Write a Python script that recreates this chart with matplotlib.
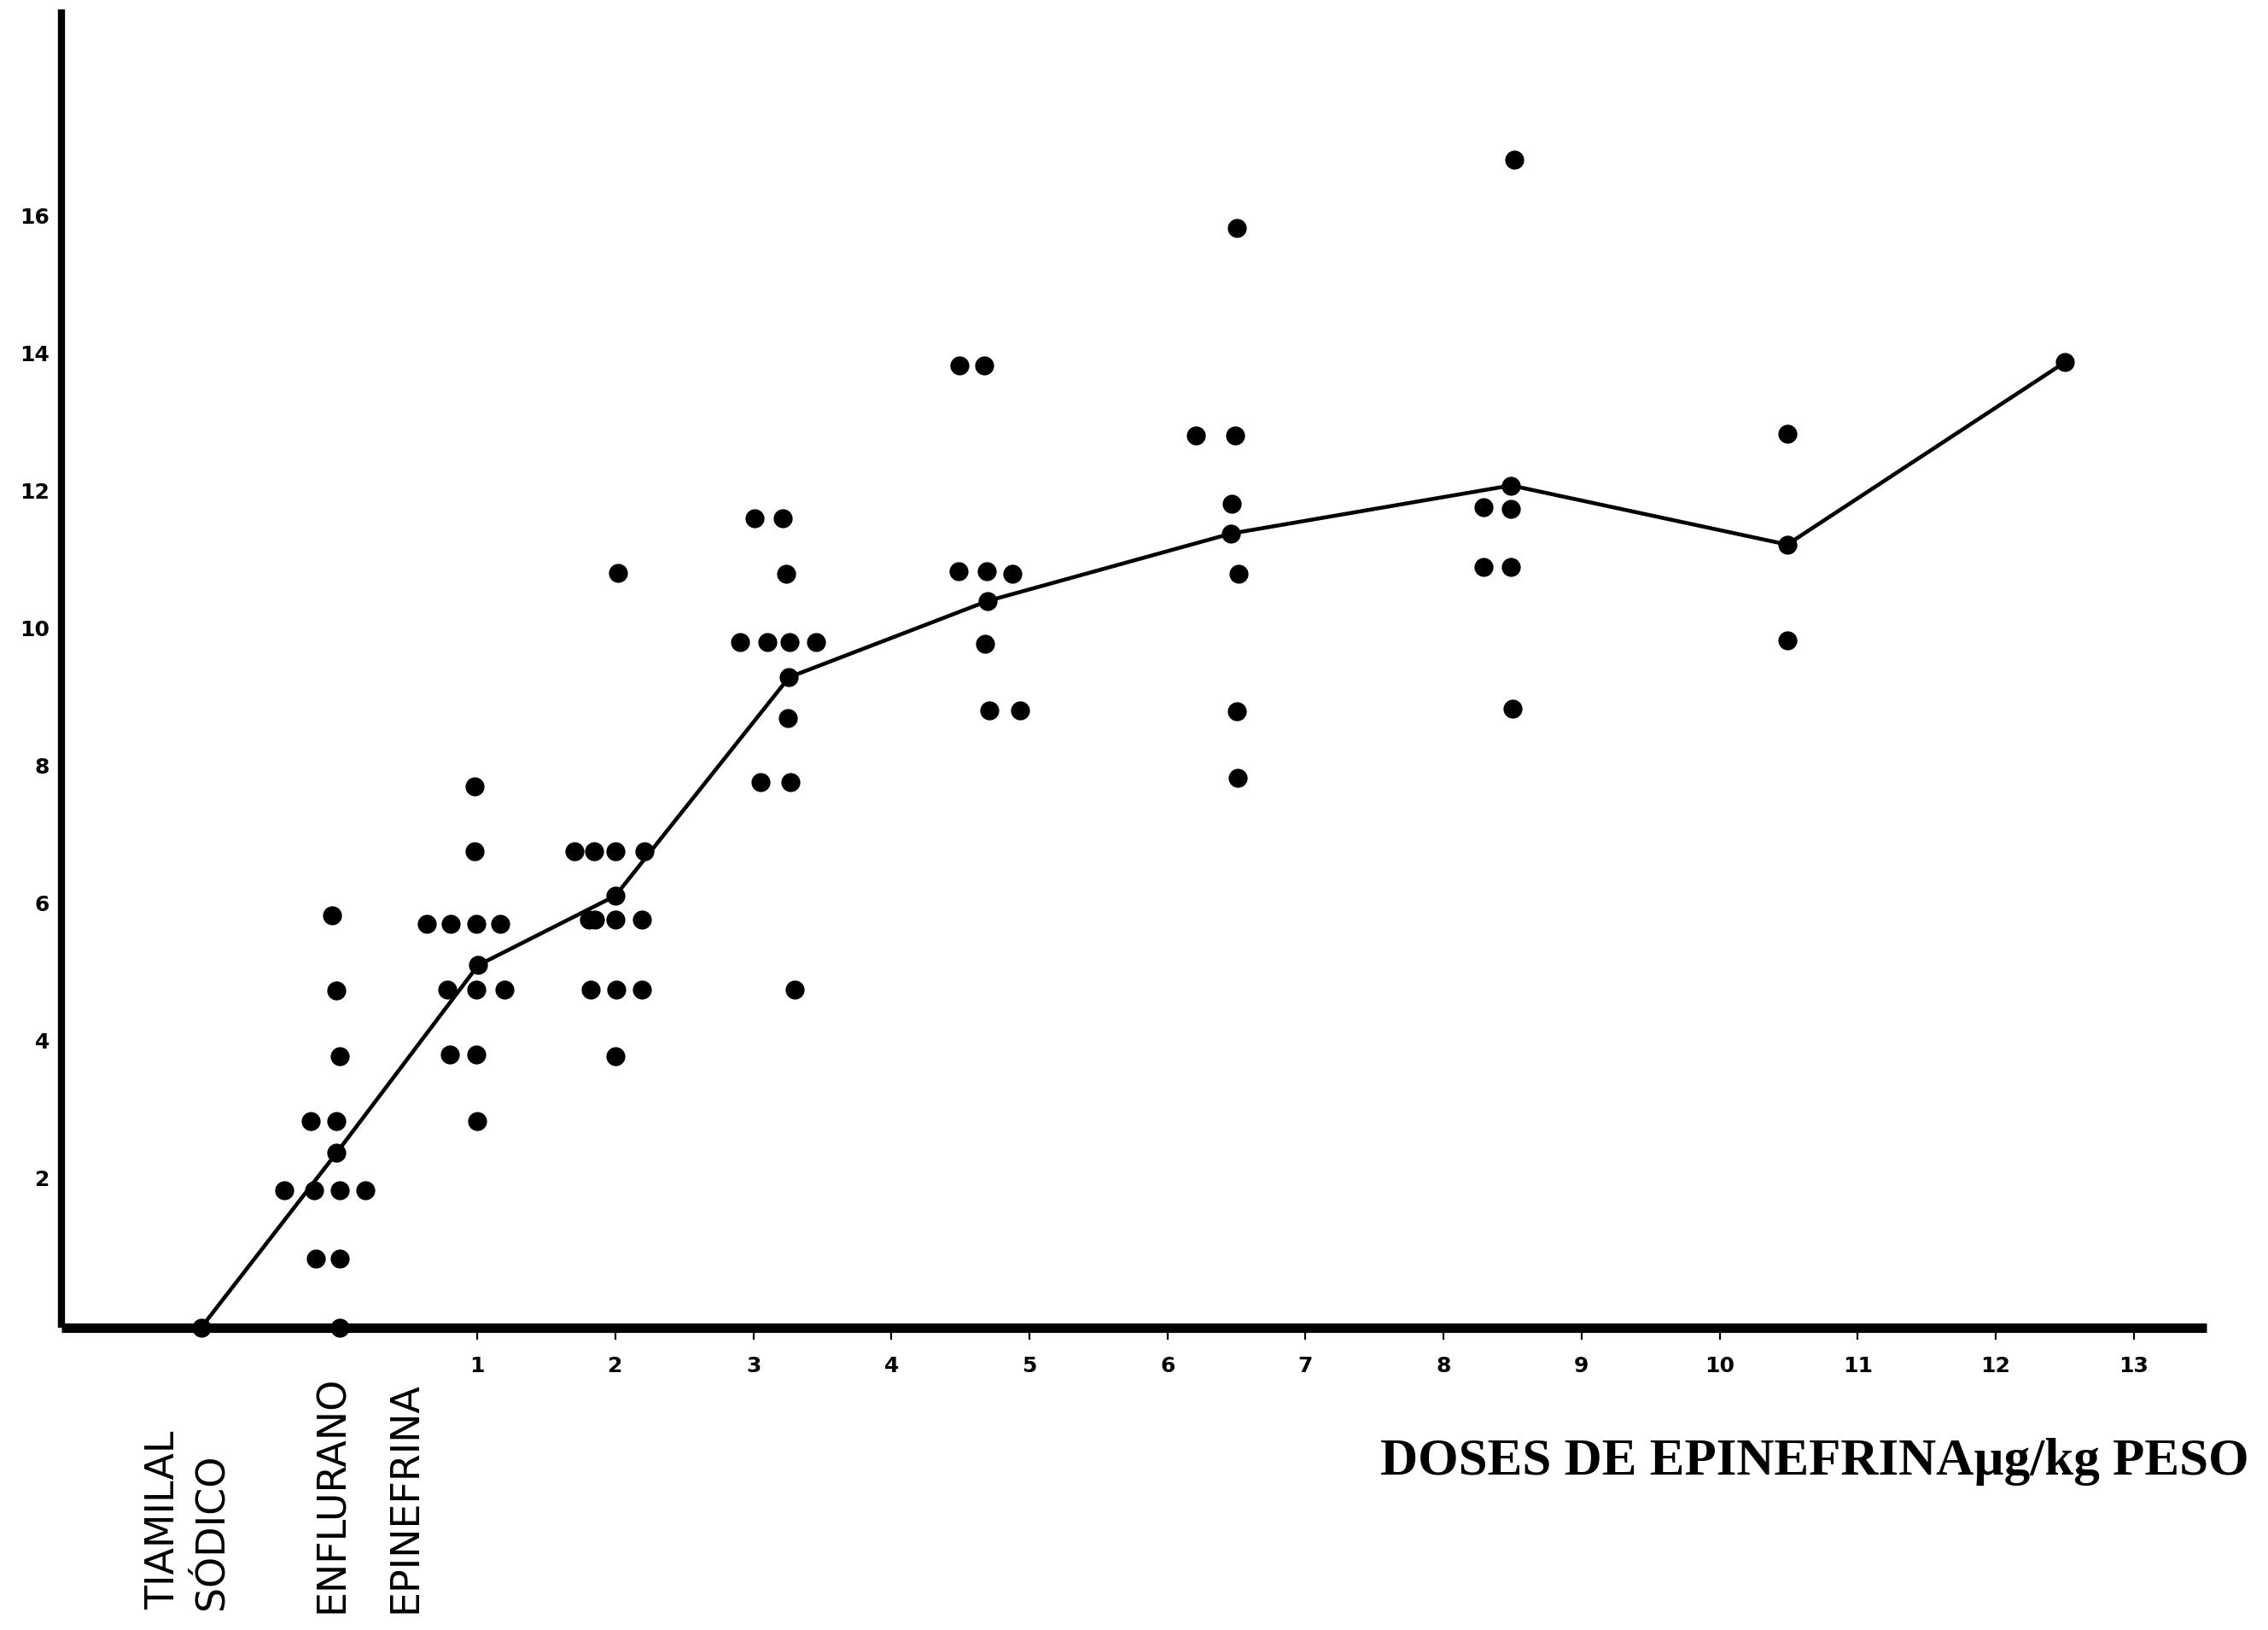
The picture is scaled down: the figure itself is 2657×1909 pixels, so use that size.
import matplotlib
matplotlib.use("Agg")
import matplotlib.pyplot as plt
import matplotlib.transforms as mtransforms

# ---------------- data ----------------
# individual observations per dose group (x = dose position, y = value)
enflurano_x = [-0.05, -0.02, 0.00, -0.21, -0.02, -0.40, -0.18, 0.00, 0.19, -0.17, 0.00, 0.00]
enflurano_y = [6.0, 4.9, 3.95, 3.0, 3.0, 2.0, 2.0, 2.0, 2.0, 1.0, 1.0, 0.0]

dose1_x = [0.98, 0.98, 0.635, 0.805, 0.99, 1.168, 0.782, 0.99, 1.195, 0.798, 0.995, 1.0]
dose1_y = [7.87, 6.93, 5.87, 5.87, 5.87, 5.87, 4.92, 4.92, 4.92, 3.97, 3.97, 3.0]

dose2_x = [1.704, 1.846, 2.0, 2.209, 1.81, 1.855, 2.0, 2.19, 1.823, 2.007, 2.19, 2.0, 2.02]
dose2_y = [6.93, 6.93, 6.93, 6.93, 5.93, 5.93, 5.93, 5.93, 4.92, 4.92, 4.92, 3.95, 10.98]

dose3_x = [3.009, 3.212, 3.236, 2.904, 3.103, 3.264, 3.453, 3.252, 3.051, 3.27, 3.30]
dose3_y = [11.77, 11.77, 10.96, 9.97, 9.97, 9.97, 9.97, 8.87, 7.93, 7.93, 4.92]

dose4_x = [4.49, 4.674, 4.485, 4.693, 4.876, 4.68, 4.71, 4.934]
dose4_y = [14.0, 14.0, 11.0, 11.0, 10.96, 9.95, 8.98, 8.98]

dose6_x = [6.50, 6.208, 6.492, 6.464, 6.516, 6.504, 6.508]
dose6_y = [16.0, 12.98, 12.98, 11.98, 10.96, 8.97, 7.99]

dose8_x = [8.51, 8.29, 8.49, 8.29, 8.49, 8.50]
dose8_y = [16.99, 11.93, 11.91, 11.06, 11.06, 9.0]

dose10_x = [10.49, 10.49]
dose10_y = [13.0, 9.99]

# mean curve
mean_x = [-1.0, -0.02, 1.006, 2.0, 3.259, 4.698, 6.46, 8.49, 10.49, 12.5]
mean_y = [0.0, 2.54, 5.27, 6.28, 9.46, 10.57, 11.55, 12.25, 11.39, 14.04]

x_ticks = [1, 2, 3, 4, 5, 6, 7, 8, 9, 10, 11, 12, 13]
x_tick_labels = ["1", "2", "3", "4", "5", "6", "7", "8", "9", "10", "11", "12", "13"]
y_ticks = [2, 4, 6, 8, 10, 12, 14, 16]
y_tick_labels = ["2", "4", "6", "8", "10", "12", "14", "16"]

group_labels = ["TIAMILAL\nSÓDICO", "ENFLURANO", "EPINEFRINA"]
group_label_x = [-1.10, -0.05, 0.48]
x_title = "DOSES DE EPINEFRINAµg/kg PESO"

# ---------------- figure ----------------
fig = plt.figure(figsize=(26.57, 19.09), dpi=100)
ax = fig.add_axes([0.0271, 0.18559, 0.9458, 0.8084])
ax.set_xlim(-2.013, 13.528)
ax.set_ylim(0, 19.17)

for s in ["top", "right"]:
    ax.spines[s].set_visible(False)
ax.spines["left"].set_linewidth(6)
ax.spines["bottom"].set_linewidth(8)
ax.spines["left"].set_capstyle("butt")
ax.spines["bottom"].set_capstyle("butt")

groups = [(enflurano_x, enflurano_y), (dose1_x, dose1_y), (dose2_x, dose2_y),
          (dose3_x, dose3_y), (dose4_x, dose4_y), (dose6_x, dose6_y),
          (dose8_x, dose8_y), (dose10_x, dose10_y)]
for gx, gy in groups:
    ax.plot(gx, gy, linestyle="none", marker="o", ms=16, mew=0,
            color="black", clip_on=False, zorder=3)

ax.plot(mean_x, mean_y, color="black", lw=3.3, marker="o", ms=16, mew=0,
        clip_on=False, zorder=4)

ax.tick_params(axis="x", direction="out", length=10, width=1.6, pad=14,
               labelsize=18, colors="black")
ax.tick_params(axis="y", length=0, pad=10, labelsize=18, colors="black")
ax.set_xticks(x_ticks)
ax.set_xticklabels(x_tick_labels, fontweight="bold")
ax.set_yticks(y_ticks)
ax.set_yticklabels(y_tick_labels, fontweight="bold")
offset = mtransforms.ScaledTranslation(0, 0.14, fig.dpi_scale_trans)
for lab in ax.get_yticklabels():
    lab.set_transform(lab.get_transform() + offset)

trans = mtransforms.blended_transform_factory(ax.transData, fig.transFigure)
ax.text(group_label_x[0], 0.0125, group_labels[0], rotation=90, ha="center",
        va="bottom", multialignment="left", linespacing=1.33, fontsize=33,
        transform=trans, clip_on=False)
for lbl, lx in zip(group_labels[1:], group_label_x[1:]):
    ax.text(lx, 0.0105, lbl, rotation=90, ha="center", va="bottom",
            fontsize=33, transform=trans, clip_on=False)

fig.text(0.9917, 0.0953, x_title, ha="right", va="baseline", fontsize=44,
         fontweight="bold", family="Liberation Serif")

fig.savefig("out.png", dpi=100, facecolor="white")
